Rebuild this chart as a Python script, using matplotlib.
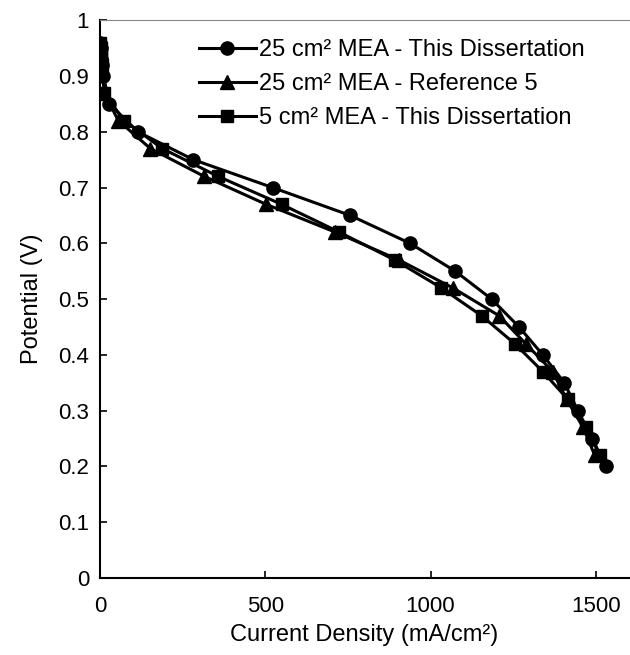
import matplotlib
matplotlib.use("Agg")
import matplotlib.pyplot as plt

plt.rcParams['font.family'] = ['Liberation Sans', 'DejaVu Sans']

# 25 cm2 MEA - this dissertation (circles)
cur_25_diss = [0, 2, 4, 7, 10, 28, 114, 282, 522, 757, 938, 1075, 1185, 1268, 1340, 1405, 1446, 1490, 1530]
pot_25_diss = [0.96, 0.95, 0.93, 0.92, 0.90, 0.85, 0.80, 0.75, 0.70, 0.65, 0.60, 0.55, 0.50, 0.45, 0.40, 0.35, 0.30, 0.25, 0.20]

# 25 cm2 MEA - reference 5 (triangles)
cur_25_ref = [12, 55, 152, 315, 502, 712, 905, 1068, 1208, 1288, 1370, 1412, 1462, 1497]
pot_25_ref = [0.87, 0.82, 0.77, 0.72, 0.67, 0.62, 0.57, 0.52, 0.47, 0.42, 0.37, 0.32, 0.27, 0.22]

# 5 cm2 MEA - this dissertation (squares)
cur_5_diss = [0, 1, 2, 3, 5, 12, 72, 188, 357, 549, 724, 892, 1033, 1155, 1255, 1340, 1416, 1472, 1512]
pot_5_diss = [0.96, 0.95, 0.94, 0.93, 0.92, 0.87, 0.82, 0.77, 0.72, 0.67, 0.62, 0.57, 0.52, 0.47, 0.42, 0.37, 0.32, 0.27, 0.22]

fig = plt.figure(figsize=(6.3, 6.55), dpi=100)
ax = fig.add_axes([0.159, 0.1176, 0.839, 0.8515])

ax.plot(cur_25_diss, pot_25_diss, color='black', lw=2.2, marker='o', ms=9.5,
        label='25 cm² MEA - This Dissertation')
ax.plot(cur_25_ref, pot_25_ref, color='black', lw=2.2, marker='^', ms=9.5,
        label='25 cm² MEA - Reference 5')
ax.plot(cur_5_diss, pot_5_diss, color='black', lw=2.2, marker='s', ms=9,
        label='5 cm² MEA - This Dissertation')

ax.set_xlim(0, 1600)
ax.set_ylim(0, 1)
ax.set_xticks([0, 500, 1000, 1500])
ax.set_yticks([i / 10 for i in range(11)])
ax.set_yticklabels(['0', '0.1', '0.2', '0.3', '0.4', '0.5', '0.6', '0.7', '0.8', '0.9', '1'])
ax.tick_params(direction='in', length=5, width=1.2, labelsize=16)
ax.tick_params(axis='x', pad=13)
ax.tick_params(axis='y', pad=8)

ax.spines['right'].set_visible(False)
ax.spines['top'].set_color('#888888')
ax.spines['left'].set_linewidth(1.5)
ax.spines['bottom'].set_linewidth(1.5)

ax.set_xlabel('Current Density (mA/cm²)', fontsize=17, labelpad=5)
ax.set_ylabel('Potential (V)', fontsize=17, labelpad=11)

ax.legend(loc='upper left', frameon=False, fontsize=17, handlelength=2.4,
          handletextpad=0.15, labelspacing=0.5, borderpad=0, borderaxespad=0,
          bbox_to_anchor=(0.187, 0.966))

fig.savefig('out.png', dpi=100)
